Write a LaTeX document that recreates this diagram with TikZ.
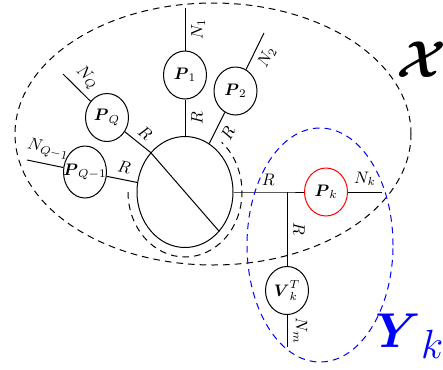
\documentclass[tikz,border=0pt]{standalone}
\usepackage{amsmath, amssymb}
\usepackage{tikz}
\usetikzlibrary{shapes.geometric, calc}

\begin{document}
\begin{tikzpicture}[x=0.6pt, y=0.6pt, line width=0.6pt,
    pnode/.style={ellipse, draw, minimum width=25.8pt, minimum height=28.8pt, inner sep=0pt},
    lbl/.style={inner sep=3.5pt},
    grp/.style={dash pattern=on 4pt off 3pt}]
  \useasboundingbox (0,0) rectangle (443,369);
  % central block with its dashed shell
  \node[ellipse, draw, minimum width=57.6pt, minimum height=66.6pt] (hub) at (185,177) {};
  \draw[grp] (128,177) arc[start angle=180, end angle=410, x radius=57, y radius=65];
  % spokes 1, 2, Q, Q-1
  \node[pnode]                (p1)  at (185,294)   {$\boldsymbol{P}_1$};
  \node[pnode]                (p2)  at (235.5,278) {$\boldsymbol{P}_2$};
  \node[pnode]                (pQ)  at (107,251.5) {$\boldsymbol{P}_Q$};
  \node[pnode, inner xsep=-4pt, minimum height=31.2pt] (pQ1) at (85,197) {$\boldsymbol{P}_{Q-1}$};
  \coordinate (n1)  at (185,361);
  \coordinate (n2)  at (264,336);
  \coordinate (nQ)  at (63,295);
  \coordinate (nQ1) at (27,209);
  \draw (hub) -- node[lbl, rotate=90, below] {$R$} (p1);
  \draw (p1) -- node[lbl, rotate=90, below] {$N_1$} (n1);
  \draw (hub) -- node[lbl, sloped, below] {$R$} (p2);
  \draw (p2) -- node[lbl, sloped, below] {$N_2$} (n2);
  \draw (pQ) -- node[lbl, sloped, above] {$R$} (hub.131) -- (hub.-49);
  \draw (pQ) -- node[lbl, sloped, above] {$N_Q$} (nQ);
  \draw (hub) -- node[lbl, sloped, above] {$R$} (pQ1);
  \draw (pQ1) -- node[lbl, sloped, above] {$N_{Q-1}$} (nQ1);
  % branch k
  \node[pnode, draw=red]      (pk)  at (326,177)   {$\boldsymbol{P}_k$};
  \node[pnode]                (vk)  at (287,78.5)  {$\boldsymbol{V}_k^T$};
  \coordinate (jk) at (287,177);
  \coordinate (nk) at (382,177);
  \coordinate (nm) at (287,22);
  \draw (hub) -- node[lbl, pos=0.65, above] {$R$} (jk) -- (pk);
  \draw (pk) -- node[lbl, above] {$N_k$} (nk);
  \draw (jk) -- node[lbl, rotate=-90, above] {$R$} (vk);
  \draw (vk) -- node[lbl, rotate=-90, above] {$N_m$} (nm);
  % groups
  \draw[grp] (213,235) ellipse [x radius=198, y radius=131];
  \draw[grp, blue] (320,124) ellipse [x radius=73, y radius=117];
  \node[font=\Huge, scale=1.25]             (xlbl) at (421,309) {$\boldsymbol{\mathcal{X}}$};
  \node[text=blue, font=\Huge, scale=1.18] (ylbl) at (410,33)  {$\boldsymbol{Y}_k$};
\end{tikzpicture}
\end{document}
